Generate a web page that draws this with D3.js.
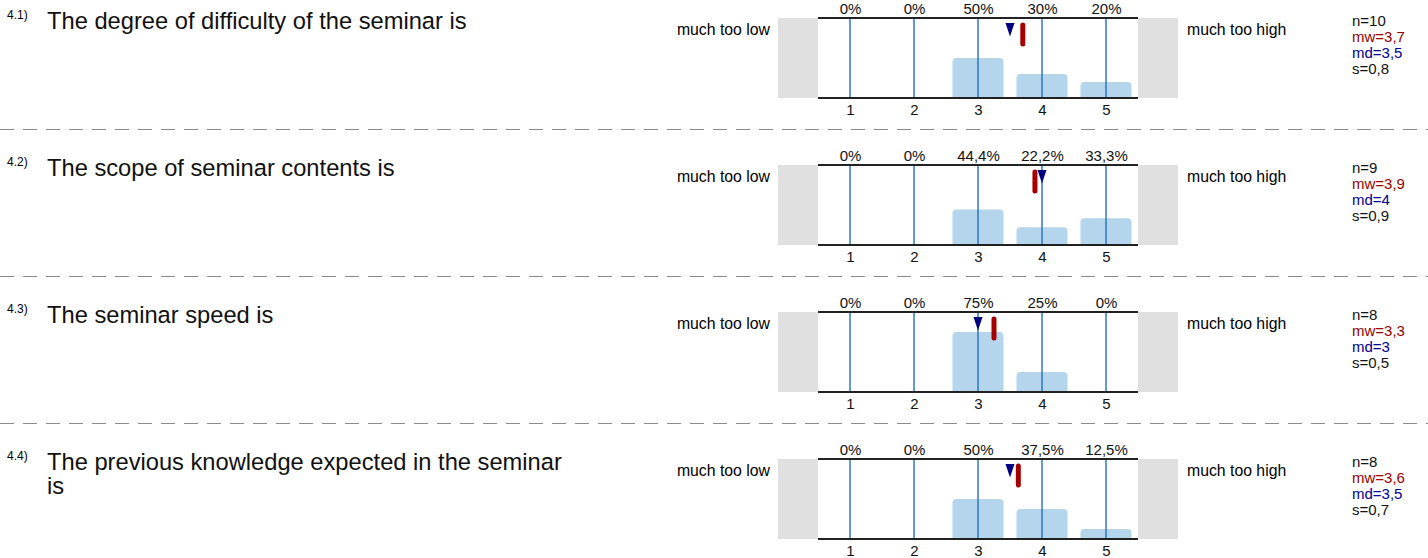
<!DOCTYPE html>
<html>

<head>
    <meta charset="utf-8">
    <style>
        body {
            margin: 0;
            background: white;
            font-family: 'Liberation Sans', Arial, sans-serif;
        }

        svg {
            display: block;
        }

        .small {
            font-size: 15px;
        }

        .side {
            font-size: 15.8px;
        }
    </style>
</head>

<body>
    <svg width="1428" height="558"></svg>
</body>

<script src="https://d3js.org/d3.v7.min.js"></script>

<script>
    // chart data
    let numbers = ["4.1)", "4.2)", "4.3)", "4.4)"]
    let questions = [
        "The degree of difficulty of the seminar is",
        "The scope of seminar contents is",
        "The seminar speed is",
        "The previous knowledge expected in the seminar is"
    ]
    let categories = [1, 2, 3, 4, 5]
    let percents = [
        [0, 0, 50, 30, 20],
        [0, 0, 44.4, 22.2, 33.3],
        [0, 0, 75, 25, 0],
        [0, 0, 50, 37.5, 12.5]
    ]
    let nValues = [10, 9, 8, 8]
    let means = [3.7, 3.89, 3.25, 3.63]
    let medians = [3.5, 4, 3, 3.5]
    let sds = [0.8, 0.9, 0.5, 0.7]
    let leftLabel = "much too low"
    let rightLabel = "much too high"

    let blockHeight = 147
    let plotTop = 18, plotBottom = 98

    let svg = d3.select("svg")

    let x = d3.scaleLinear().domain([0.5, 5.5]).range([818, 1138])
    let y = d3.scaleLinear().domain([0, 100]).range([plotBottom, plotTop])
    let barWidth = 51

    let comma = v => String(v).replace(".", ",")

    // wrap title text into lines
    function wrap(textSel, maxWidth, lineHeight) {
        textSel.each(function () {
            let text = d3.select(this)
            let words = text.text().split(" ")
            text.text(null)
            let line = []
            let tspan = text.append("tspan").attr("x", text.attr("x")).attr("dy", 0)
            words.forEach(w => {
                line.push(w)
                tspan.text(line.join(" "))
                if (tspan.node().getComputedTextLength() > maxWidth && line.length > 1) {
                    line.pop()
                    tspan.text(line.join(" "))
                    line = [w]
                    tspan = text.append("tspan").attr("x", text.attr("x")).attr("dy", lineHeight).text(w)
                }
            })
        })
    }

    svg.append("defs").append("clipPath")
        .attr("id", "plotclip")
        .append("rect")
        .attr("x", x(0.5)).attr("y", plotTop)
        .attr("width", x(5.5) - x(0.5)).attr("height", plotBottom - plotTop)

    questions.forEach((q, i) => {
        let g = svg.append("g").attr("transform", `translate(0,${i * blockHeight})`)

        // number + title
        g.append("text")
            .attr("x", 7).attr("y", 19)
            .attr("font-size", 12)
            .text(numbers[i])

        g.append("text")
            .attr("x", 47).attr("y", 29)
            .attr("font-size", 23.7)
            .attr("fill", "#111")
            .text(q)
            .call(wrap, 530, 24)

        // gray end boxes
        g.append("rect")
            .attr("x", x(0.5) - 40).attr("y", plotTop)
            .attr("width", 40).attr("height", plotBottom - plotTop)
            .attr("fill", "#e0e0e0")
        g.append("rect")
            .attr("x", x(5.5)).attr("y", plotTop)
            .attr("width", 40).attr("height", plotBottom - plotTop)
            .attr("fill", "#e0e0e0")

        g.append("text")
            .attr("class", "side")
            .attr("x", x(0.5) - 48).attr("y", 35)
            .attr("text-anchor", "end")
            .text(leftLabel)
        g.append("text")
            .attr("class", "side")
            .attr("x", x(5.5) + 49).attr("y", 35)
            .text(rightLabel)

        // bars
        g.append("g")
            .attr("clip-path", "url(#plotclip)")
            .selectAll("rect")
            .data(percents[i])
            .join("rect")
            .attr("x", (d, j) => x(categories[j]) - barWidth / 2)
            .attr("y", d => y(d))
            .attr("width", barWidth)
            .attr("height", d => d > 0 ? plotBottom - y(d) + 6 : 0)
            .attr("rx", 4)
            .attr("fill", "#b5d5ec")

        // blue category lines
        g.append("g")
            .selectAll("line")
            .data(categories)
            .join("line")
            .attr("x1", d => x(d)).attr("x2", d => x(d))
            .attr("y1", plotTop).attr("y2", plotBottom)
            .attr("stroke", "#2170c4")
            .attr("stroke-width", 1.4)

        // top / bottom frame lines
        g.append("line")
            .attr("x1", x(0.5)).attr("x2", x(5.5))
            .attr("y1", plotTop).attr("y2", plotTop)
            .attr("stroke", "#222").attr("stroke-width", 2)
        g.append("line")
            .attr("x1", x(0.5)).attr("x2", x(5.5))
            .attr("y1", plotBottom).attr("y2", plotBottom)
            .attr("stroke", "#222").attr("stroke-width", 2)

        // percent labels
        let topAxis = d3.axisTop(x)
            .tickValues(categories)
            .tickSize(0)
            .tickPadding(4.5)
            .tickFormat((d, j) => comma(percents[i][j]) + "%")
        g.append("g")
            .attr("transform", `translate(0,${plotTop})`)
            .call(topAxis)
            .call(a => a.select(".domain").remove())
            .selectAll("text")
            .attr("font-size", 15)
            .attr("font-family", "'Liberation Sans', Arial, sans-serif")
            .attr("fill", "#111")

        // category tick labels
        let bottomAxis = d3.axisBottom(x)
            .tickValues(categories)
            .tickSize(0)
            .tickPadding(6.5)
            .tickFormat(d3.format("d"))
        g.append("g")
            .attr("transform", `translate(0,${plotBottom})`)
            .call(bottomAxis)
            .call(a => a.select(".domain").remove())
            .selectAll("text")
            .attr("font-size", 15)
            .attr("font-family", "'Liberation Sans', Arial, sans-serif")
            .attr("fill", "#111")

        // median triangle
        let mx = x(medians[i])
        g.append("path")
            .attr("d", `M${mx - 4.5},${plotTop + 5}L${mx + 4.5},${plotTop + 5}L${mx},${plotTop + 18.5}Z`)
            .attr("fill", "#000080")

        // mean bar
        g.append("line")
            .attr("x1", x(means[i])).attr("x2", x(means[i]))
            .attr("y1", plotTop + 7).attr("y2", plotTop + 26)
            .attr("stroke", "#a50000")
            .attr("stroke-width", 5)
            .attr("stroke-linecap", "round")

        // stats
        let stats = [
            { t: "n=" + nValues[i], c: "#111" },
            { t: "mw=" + comma(means[i].toFixed(1)), c: "#990000" },
            { t: "md=" + comma(medians[i]), c: "#000099" },
            { t: "s=" + comma(sds[i]), c: "#111" }
        ]
        g.append("g")
            .selectAll("text")
            .data(stats)
            .join("text")
            .attr("class", "small")
            .attr("x", 1352)
            .attr("y", (d, j) => 26 + j * 16)
            .attr("fill", d => d.c)
            .text(d => d.t)

        // separator
        if (i < questions.length - 1) {
            g.append("line")
                .attr("x1", 0).attr("x2", 1428)
                .attr("y1", 129.5).attr("y2", 129.5)
                .attr("stroke", "#8a8a8a")
                .attr("stroke-width", 1.2)
                .attr("stroke-dasharray", "14,9")
        }
    })
</script>

</html>
